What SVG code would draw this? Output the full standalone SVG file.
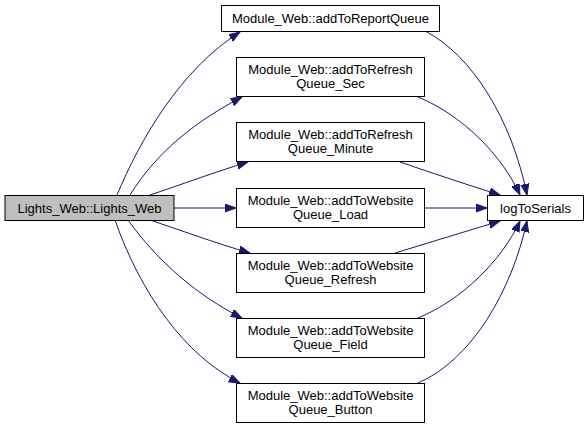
<svg xmlns="http://www.w3.org/2000/svg" width="588" height="430" viewBox="0 0 588 430">
<style>
.node rect{fill:#ffffff;stroke:#000000;stroke-width:1}
.node text{font-family:"Liberation Sans",Arial,sans-serif;font-size:13px;fill:#000000;text-anchor:middle}
#edges path{fill:none;stroke:#191970;stroke-width:1}
</style>
<defs>
<marker id="arr" markerUnits="userSpaceOnUse" markerWidth="13" markerHeight="10" refX="11" refY="4" orient="auto">
<path d="M0,0 L11,4 L0,8 z" fill="#191970" stroke="#191970" stroke-width="1"/>
</marker>
</defs>
<rect width="588" height="430" fill="#ffffff"/>
<g id="edges">
<path d="M117,195 C140,140 180,70 240,32" marker-end="url(#arr)"/>
<path d="M130,195 C158,150 198,120 242,97" marker-end="url(#arr)"/>
<path d="M150,195 C180,185 215,172 248,162" marker-end="url(#arr)"/>
<path d="M174,208 L236,208" marker-end="url(#arr)"/>
<path d="M150,220 C180,230 215,243 250,253" marker-end="url(#arr)"/>
<path d="M128,220 C158,262 198,296 242,318" marker-end="url(#arr)"/>
<path d="M115,220 C140,292 185,356 240,383" marker-end="url(#arr)"/>
<path d="M425,31 C472,55 512,120 527,195" marker-end="url(#arr)"/>
<path d="M418,97 C462,115 502,155 520,195" marker-end="url(#arr)"/>
<path d="M400,162 C435,174 465,184 500,195" marker-end="url(#arr)"/>
<path d="M424,208 L487,208" marker-end="url(#arr)"/>
<path d="M395,253 C430,242 465,232 500,221" marker-end="url(#arr)"/>
<path d="M418,318 C462,300 502,260 520,221" marker-end="url(#arr)"/>
<path d="M418,383 C472,360 512,290 527,221" marker-end="url(#arr)"/>
</g>
<g id="lights_web" class="node">
<rect x="5" y="195.5" width="169" height="25" style="fill:#bfbfbf"/>
<text x="89.5" y="212.5">Lights_Web::Lights_Web</text>
</g>
<g id="addToReportQueue" class="node">
<rect x="221.5" y="5.5" width="218" height="26"/>
<text x="330.5" y="23">Module_Web::addToReportQueue</text>
</g>
<g id="addToRefreshQueue_Sec" class="node">
<rect x="236.5" y="57.5" width="188" height="39"/>
<text x="330.5" y="74">Module_Web::addToRefresh</text>
<text x="330.5" y="88">Queue_Sec</text>
</g>
<g id="addToRefreshQueue_Minute" class="node">
<rect x="236.5" y="122.5" width="188" height="39"/>
<text x="330.5" y="139">Module_Web::addToRefresh</text>
<text x="330.5" y="153">Queue_Minute</text>
</g>
<g id="addToWebsiteQueue_Load" class="node">
<rect x="236.5" y="188.5" width="188" height="39"/>
<text x="330.5" y="205">Module_Web::addToWebsite</text>
<text x="330.5" y="219">Queue_Load</text>
</g>
<g id="addToWebsiteQueue_Refresh" class="node">
<rect x="236.5" y="253.5" width="188" height="39"/>
<text x="330.5" y="270">Module_Web::addToWebsite</text>
<text x="330.5" y="284">Queue_Refresh</text>
</g>
<g id="addToWebsiteQueue_Field" class="node">
<rect x="236.5" y="318.5" width="188" height="39"/>
<text x="330.5" y="335">Module_Web::addToWebsite</text>
<text x="330.5" y="349">Queue_Field</text>
</g>
<g id="addToWebsiteQueue_Button" class="node">
<rect x="236.5" y="383.5" width="188" height="39"/>
<text x="330.5" y="400">Module_Web::addToWebsite</text>
<text x="330.5" y="414">Queue_Button</text>
</g>
<g id="logToSerials" class="node">
<rect x="487.5" y="195.5" width="96" height="25"/>
<text x="535.5" y="212.5">logToSerials</text>
</g>
</svg>
